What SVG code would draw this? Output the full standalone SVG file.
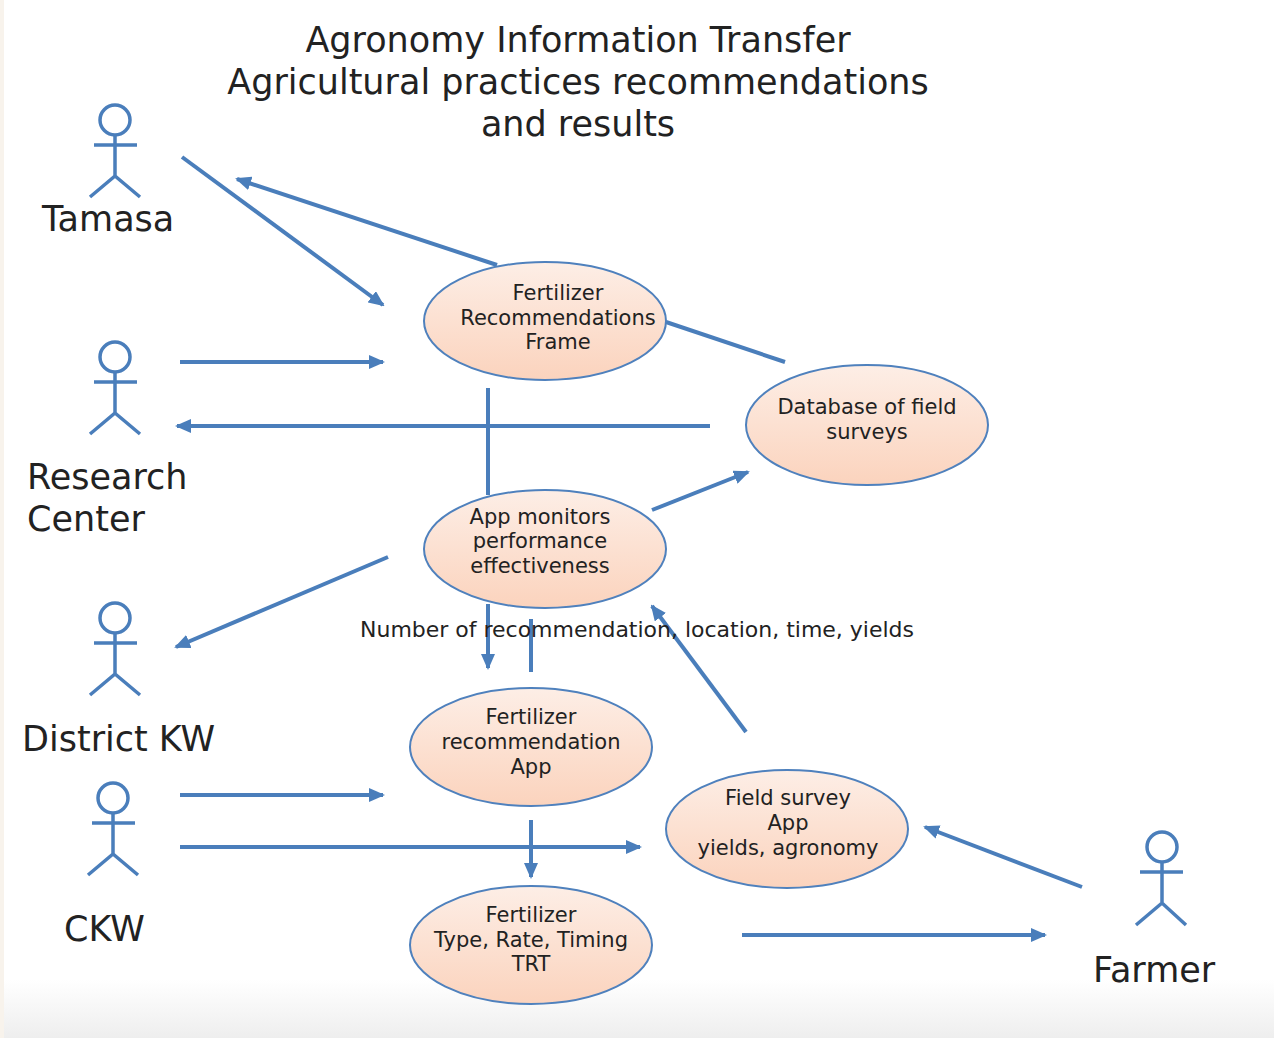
<svg xmlns="http://www.w3.org/2000/svg" width="1274" height="1038" viewBox="0 0 1274 1038">
<style>
.t{font-family:"DejaVu Sans","Verdana",sans-serif;fill:#222222;text-anchor:middle}
.title{font-size:35px}
.act{font-size:35px;text-anchor:start}
.nt{font-size:21px}
.actor{fill:none;stroke:#4a7ebb;stroke-width:3.5}
.node{fill:url(#peach);stroke:#4f81bd;stroke-width:2}
.c{fill:none;stroke:#4a7ebb;stroke-width:4}
.a{marker-end:url(#ah)}
</style>
<defs>
<linearGradient id="peach" x1="0" y1="0" x2="0" y2="1">
<stop offset="0" stop-color="#fdeee6"/>
<stop offset="1" stop-color="#fbd3bd"/>
</linearGradient>
<linearGradient id="bg" x1="0" y1="0" x2="0" y2="1">
<stop offset="0" stop-color="#ffffff"/>
<stop offset="1" stop-color="#eeeeee"/>
</linearGradient>
<marker id="ah" markerUnits="userSpaceOnUse" markerWidth="16" markerHeight="14" refX="14" refY="7" orient="auto">
<path d="M0,0 L16,7 L0,14 Z" fill="#4a7ebb"/>
</marker>
</defs>
<rect x="0" y="0" width="1274" height="1038" fill="#ffffff"/>
<rect x="0" y="980" width="1274" height="58" fill="url(#bg)"/>
<rect x="0" y="0" width="4" height="1038" fill="#f8f3ec"/>

<g id="title">
<text class="t title" x="578" y="52">Agronomy Information Transfer</text>
<text class="t title" x="578" y="94">Agricultural practices recommendations</text>
<text class="t title" x="578" y="136">and results</text>
</g>

<g id="tamasa">
<circle class="actor" cx="115" cy="120" r="15"/>
<path class="actor" d="M115,135 V176 M94,145 H137 M90,197 L115,176 L140,197"/>
<text class="t act" x="42" y="231">Tamasa</text>
</g>
<g id="research-center">
<circle class="actor" cx="115" cy="357" r="15"/>
<path class="actor" d="M115,372 V413 M94,382 H137 M90,434 L115,413 L140,434"/>
<text class="t act" x="27" y="489">Research</text>
<text class="t act" x="27" y="531">Center</text>
</g>
<g id="district-kw">
<circle class="actor" cx="115" cy="618" r="15"/>
<path class="actor" d="M115,633 V674 M94,643 H137 M90,695 L115,674 L140,695"/>
<text class="t act" x="22" y="751">District KW</text>
</g>
<g id="ckw">
<circle class="actor" cx="113" cy="798" r="15"/>
<path class="actor" d="M113,813 V854 M92,823 H135 M88,875 L113,854 L138,875"/>
<text class="t act" x="64" y="941">CKW</text>
</g>
<g id="farmer">
<circle class="actor" cx="1162" cy="847" r="15"/>
<path class="actor" d="M1162,862 V903 M1140,872 H1183 M1136,925 L1162,903 L1186,925"/>
<text class="t act" x="1093" y="982">Farmer</text>
</g>

<g id="connectors">
<line class="c a" x1="182" y1="157" x2="383" y2="305"/>
<line class="c a" x1="497" y1="265" x2="237" y2="179"/>
<line class="c" x1="666" y1="322" x2="785" y2="362"/>
<line class="c a" x1="180" y1="362" x2="383" y2="362"/>
<line class="c a" x1="710" y1="426" x2="177" y2="426"/>
<line class="c" x1="488" y1="388" x2="488" y2="495"/>
<line class="c a" x1="652" y1="510" x2="748" y2="472"/>
<line class="c a" x1="388" y1="557" x2="176" y2="647"/>
<line class="c a" x1="488" y1="604" x2="488" y2="668"/>
<line class="c" x1="531" y1="672" x2="531" y2="619"/>
<line class="c a" x1="746" y1="732" x2="652" y2="606"/>
<line class="c a" x1="180" y1="795" x2="383" y2="795"/>
<line class="c a" x1="180" y1="847" x2="640" y2="847"/>
<line class="c a" x1="531" y1="820" x2="531" y2="877"/>
<line class="c a" x1="1082" y1="887" x2="925" y2="827"/>
<line class="c a" x1="742" y1="935" x2="1045" y2="935"/>
</g>

<g id="fert-frame">
<ellipse class="node" cx="545" cy="321" rx="121" ry="59"/>
<text class="t nt" x="558" y="300">Fertilizer</text>
<text class="t nt" x="558" y="325">Recommendations</text>
<text class="t nt" x="558" y="349">Frame</text>
</g>
<g id="database">
<ellipse class="node" cx="867" cy="425" rx="121" ry="60"/>
<text class="t nt" x="867" y="414">Database of field</text>
<text class="t nt" x="867" y="439">surveys</text>
</g>
<g id="app-monitors">
<ellipse class="node" cx="545" cy="549" rx="121" ry="59"/>
<text class="t nt" x="540" y="524">App monitors</text>
<text class="t nt" x="540" y="548">performance</text>
<text class="t nt" x="540" y="573">effectiveness</text>
</g>
<g id="fert-app">
<ellipse class="node" cx="531" cy="747" rx="121" ry="59"/>
<text class="t nt" x="531" y="724">Fertilizer</text>
<text class="t nt" x="531" y="749">recommendation</text>
<text class="t nt" x="531" y="774">App</text>
</g>
<g id="field-survey">
<ellipse class="node" cx="787" cy="829" rx="121" ry="59"/>
<text class="t nt" x="788" y="805">Field survey</text>
<text class="t nt" x="788" y="830">App</text>
<text class="t nt" x="788" y="855">yields, agronomy</text>
</g>
<g id="fert-type">
<ellipse class="node" cx="531" cy="945" rx="121" ry="59"/>
<text class="t nt" x="531" y="922">Fertilizer</text>
<text class="t nt" x="531" y="947">Type, Rate, Timing</text>
<text class="t nt" x="531" y="971">TRT</text>
</g>

<g id="label">
<text class="t nt" x="637" y="637" textLength="554" lengthAdjust="spacingAndGlyphs">Number of recommendation, location, time, yields</text>
</g>
</svg>
